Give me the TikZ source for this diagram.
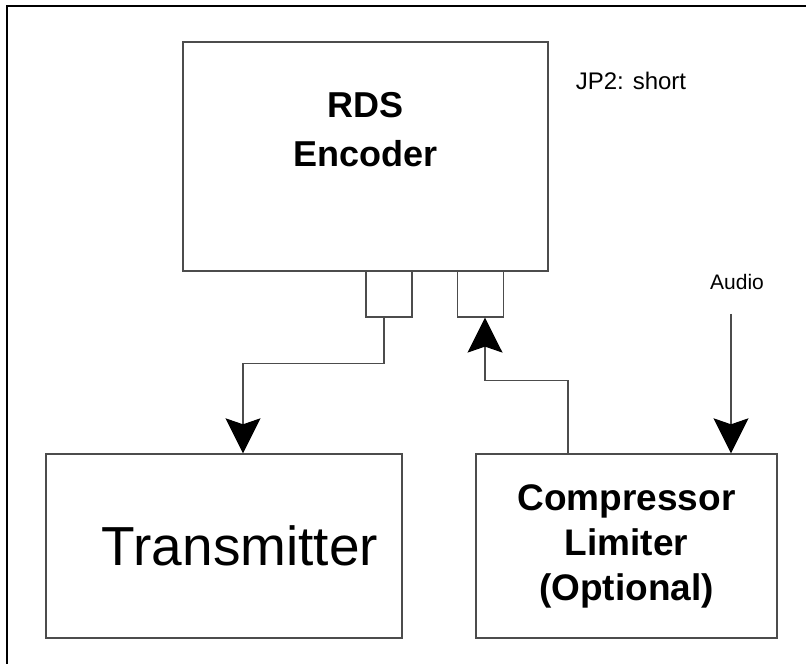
\documentclass[tikz,border=0pt]{standalone}
\usepackage{fontspec}
\setmainfont{Liberation Sans}
\usetikzlibrary{arrows.meta}
\tikzset{
  blk/.style={draw=black!70,line width=1.4pt,inner sep=0pt},      % unit box
  jack/.style={draw=black!70,line width=1.2pt,minimum width=46pt,minimum height=46pt,inner sep=0pt},
  wire/.style={black!70,line width=1.2pt},
  sig/.style={wire,-{Stealth[length=35pt,width=35pt,inset=6pt,color=black]}},
  frm/.style={black,line width=2pt},
  lbl/.style={font=\fontsize{21}{25}\selectfont,inner sep=0pt},
}

\begin{document}
\begin{tikzpicture}[x=1pt,y=-1pt]
  \useasboundingbox (0,0) rectangle (806,664);
  % frame
  \draw[frm] (7,664) -- (7,6) -- (806,6);
  % encoder with its two jacks
  \node[blk,minimum width=365pt,minimum height=229pt] (rds) at (365.5,156.5) {};
  \node[align=center,font=\bfseries\fontsize{36}{49}\selectfont] (rdstxt) at (365.5,130) {RDS\\Encoder};
  \node[jack] (jl) at (389,294) {};
  \node[jack] (jr) at (480.5,294) {};
  \node[lbl,font=\fontsize{24}{28}\selectfont] (jp2) at (631,81) {JP2: short};
  % lower units
  \node[blk,minimum width=356pt,minimum height=184pt] (tx) at (224,546) {};
  \node[font=\fontsize{55}{62}\selectfont] (txtxt) at (240,546) {Transmitter};
  \node[blk,minimum width=301pt,minimum height=184pt,align=center,font=\bfseries\fontsize{37}{45}\selectfont] (comp) at (626.5,546) {Compressor\\Limiter\\(Optional)};
  \node[lbl] (audio) at (737,282) {Audio};
  % signal paths
  \draw[sig] ([xshift=-5pt]jl.south) -- ++(0,46) -| ([xshift=19pt]tx.north);
  \draw[sig] ([xshift=-58.5pt]comp.north) -- ++(0,-73) -| ([xshift=4.5pt]jr.south);
  \draw[sig] ([xshift=-6pt,yshift=-24pt]audio.south) -- ([xshift=104.5pt]comp.north);
\end{tikzpicture}
\end{document}
